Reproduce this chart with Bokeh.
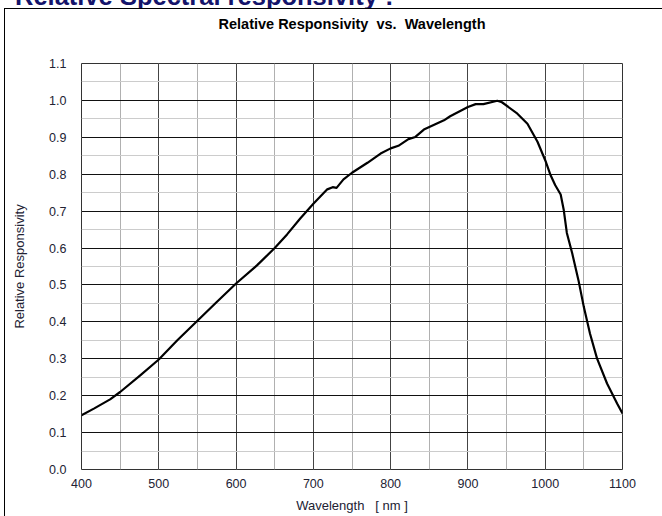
from bokeh.plotting import figure
from bokeh.models import (Range1d, SingleIntervalTicker, FixedTicker, PrintfTickFormatter,
                          LinearAxis, Div, ColumnDataSource)
from bokeh.embed import file_html
from bokeh.resources import INLINE

# ---- data ----
wavelength = [400, 416, 437, 450, 476, 500, 524, 550, 575, 600, 627, 650, 666, 683,
              700, 718, 725, 730, 739, 750, 770, 787, 800, 810, 823, 832, 843, 850,
              869, 877, 900, 910, 920, 938, 944, 964, 977, 990, 1000, 1007, 1013,
              1020, 1024, 1028, 1035, 1043, 1050, 1058, 1067, 1080, 1093, 1100]
responsivity = [0.147, 0.165, 0.19, 0.21, 0.255, 0.298, 0.35, 0.403, 0.454, 0.504,
                0.553, 0.600, 0.637, 0.680, 0.720, 0.759, 0.765, 0.763, 0.786, 0.804,
                0.831, 0.856, 0.870, 0.877, 0.895, 0.901, 0.921, 0.928, 0.946, 0.957,
                0.982, 0.990, 0.990, 0.999, 0.995, 0.964, 0.937, 0.888, 0.838, 0.797,
                0.770, 0.745, 0.703, 0.641, 0.585, 0.513, 0.440, 0.368, 0.301, 0.233,
                0.179, 0.152]

NB = "\u00a0"
title_text = "Relative Responsivity" + NB * 2 + "vs." + NB * 2 + "Wavelength"
page_title = "Relative Spectral responsivity :"
x_label = "Wavelength" + NB * 3 + "[ nm ]"
y_label = "Relative Responsivity"

FONT = "Liberation Sans"

p = figure(width=662, height=516, output_backend="svg", toolbar_location=None,
           x_range=Range1d(400, 1100), y_range=Range1d(0, 1.1),
           min_border_left=81, min_border_right=40, min_border_top=63,
           min_border_bottom=47)

p.outline_line_color = "#333333"
p.outline_line_width = 1

for ax in (p.xaxis[0], p.yaxis[0]):
    ax.axis_line_color = None
    ax.major_tick_line_color = None
    ax.minor_tick_line_color = None
    ax.major_tick_out = 0
    ax.major_tick_in = 0
    ax.minor_tick_out = 0
    ax.minor_tick_in = 0
    ax.major_label_text_font = FONT
    ax.major_label_text_font_size = "12.5px"
    ax.major_label_text_color = "#222233"
    ax.axis_label_text_font = FONT
    ax.axis_label_text_font_size = "13px"
    ax.axis_label_text_font_style = "normal"
    ax.axis_label_text_color = "#222233"

p.xaxis.ticker = SingleIntervalTicker(interval=100, num_minor_ticks=2)
p.yaxis.ticker = SingleIntervalTicker(interval=0.1, num_minor_ticks=2)
p.yaxis.formatter = PrintfTickFormatter(format="%.1f")
p.xaxis.major_label_standoff = 9
p.yaxis.major_label_standoff = 15
p.xaxis.axis_label = x_label
p.yaxis.axis_label = y_label
p.xaxis.axis_label_standoff = 7
p.yaxis.axis_label_standoff = 19

# chart title, as the label of a bare axis above the frame
top_axis = LinearAxis(ticker=FixedTicker(ticks=[]), axis_label=title_text,
                      axis_line_color=None, major_tick_out=0, major_tick_in=0,
                      minor_tick_out=0, minor_tick_in=0,
                      major_tick_line_color=None, minor_tick_line_color=None,
                      axis_label_text_font=FONT, axis_label_text_font_size="14.5px",
                      axis_label_text_font_style="bold", axis_label_text_color="#000000",
                      axis_label_standoff=32)
p.add_layout(top_axis, "above")

p.xgrid.grid_line_color = "#444444"
p.xgrid.minor_grid_line_color = "#b0b0b0"
p.ygrid.grid_line_color = "#111111"
p.ygrid.minor_grid_line_color = "#cccccc"

src = ColumnDataSource(dict(x=wavelength, y=responsivity))
p.line("x", "y", source=src, line_color="#000000", line_width=2.2,
       line_join="round")

# frame of the original picture panel (border drawn on the host element itself)
panel_frame = Div(text="", width=658, height=508,
                  styles={"position": "absolute", "left": "4px", "top": "8px",
                          "box-sizing": "border-box", "padding": "0px",
                          "margin": "0px",
                          "border-left": "1.5px solid #000000",
                          "border-top": "1.5px solid #000000",
                          "pointer-events": "none", "z-index": "10"})

# clipped page heading above the panel (only its lower edge shows)
heading = Div(text=('<div style="position:relative;left:15px;top:-16px;'
                    'font-family:\'Liberation Sans\';font-weight:bold;font-size:25.5px;'
                    'line-height:25.5px;color:#14146b;white-space:nowrap;">'
                    + page_title + '</div>'),
              width=662, height=8,
              styles={"position": "absolute", "left": "0px", "top": "0px",
                      "overflow": "hidden", "padding": "0px", "margin": "0px",
                      "pointer-events": "none", "z-index": "11"})

open("out.html", "w").write(file_html([p, panel_frame, heading], INLINE))
